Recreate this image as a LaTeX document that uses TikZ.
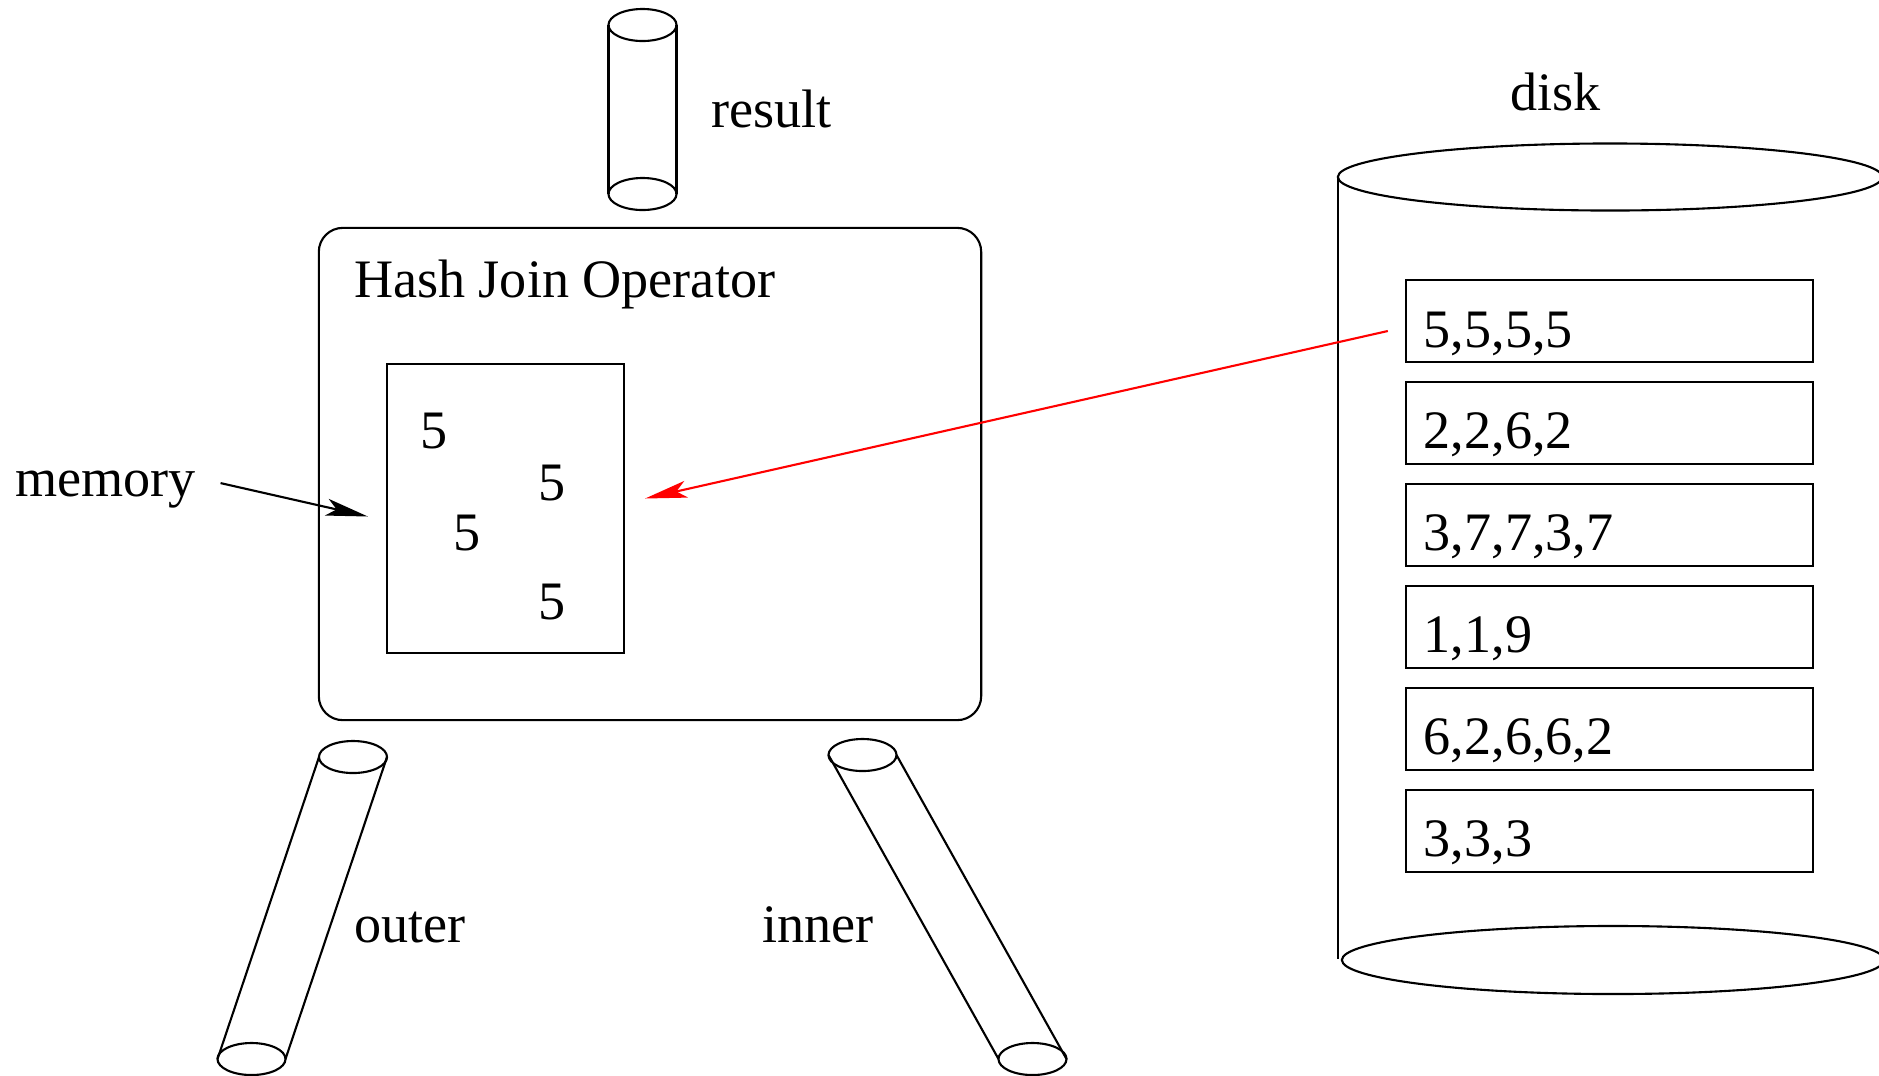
\documentclass[tikz,border=0pt]{standalone}
\usepackage{fontspec}
\setmainfont{Liberation Serif}
\usetikzlibrary{positioning, arrows.meta, calc}

% a tube: top ellipse, bottom ellipse and two sides
\newcommand{\drawtube}[4]{%
  \draw (#1,#2) ellipse [x radius=0.34cm, y radius=0.16cm];
  \draw (#3,#4) ellipse [x radius=0.34cm, y radius=0.16cm];
  \draw ({#1-34},#2) -- ({#3-34},#4);
  \draw ({#1+34},#2) -- ({#3+34},#4);
}

\begin{document}
\begin{tikzpicture}[x=0.01cm, y=-0.01cm, line width=0.6pt,
    font=\fontsize{15.4}{18}\selectfont,
    every node/.style={inner sep=0pt},
    box/.style={draw, rectangle},
    record/.style={draw, text width=3.71cm, align=left, inner xsep=0.18cm,
      inner ysep=0pt, text height=0.67cm, text depth=0.15cm},
    lbl/.style={anchor=base west},
    pointer/.style={-{Stealth[length=0.42cm, width=0.17cm, inset=0.1cm]}}]
  \useasboundingbox (0,0) rectangle (1879,1075);

  % operator and its memory
  \node[box, rounded corners=0.24cm, minimum width=6.62cm, minimum height=4.92cm] (hj) at (650,474) {};
  \node[lbl] (hjname) at (353,297) {Hash Join Operator};
  \node[box, minimum width=2.37cm, minimum height=2.89cm] (mem) at (505.5,508.5) {};
  \node[lbl] (memname) at (14,496) {memory};
  \node (d1) at (434,431) {5};
  \node (d2) at (552,483) {5};
  \node (d3) at (467,533) {5};
  \node (d4) at (552,602) {5};

  % tubes
  \drawtube{642.5}{25}{642.5}{194}
  \node[lbl] (resname) at (710,127) {result};
  \drawtube{353}{757}{251.5}{1059}
  \node[lbl] (outname) at (353,942) {outer};
  \drawtube{862.5}{755}{1032.5}{1059}
  \node[lbl] (inname) at (761,942) {inner};

  % disk
  \draw (1610,177) ellipse [x radius=2.72cm, y radius=0.335cm];
  \draw (1338,177) -- (1338,959);
  \draw (1613,960) ellipse [x radius=2.71cm, y radius=0.34cm];
  \node[lbl] (diskname) at (1509,110) {disk};
  \node[record] (rec1) at (1609.5,321) {5,5,5,5};
  \node[record, below=0.178cm of rec1] (rec2) {2,2,6,2};
  \node[record, below=0.178cm of rec2] (rec3) {3,7,7,3,7};
  \node[record, below=0.178cm of rec3] (rec4) {1,1,9};
  \node[record, below=0.178cm of rec4] (rec5) {6,2,6,6,2};
  \node[record, below=0.178cm of rec5] (rec6) {3,3,3};

  % arrows
  \draw[pointer] ($(memname.east)+(24,-6)$) -- ($(mem.west)+(-18,8)$);
  \draw[pointer, red] ($(rec1.west)+(-17,10)$) -- ($(mem.east)+(20,-10)$);
\end{tikzpicture}
\end{document}
